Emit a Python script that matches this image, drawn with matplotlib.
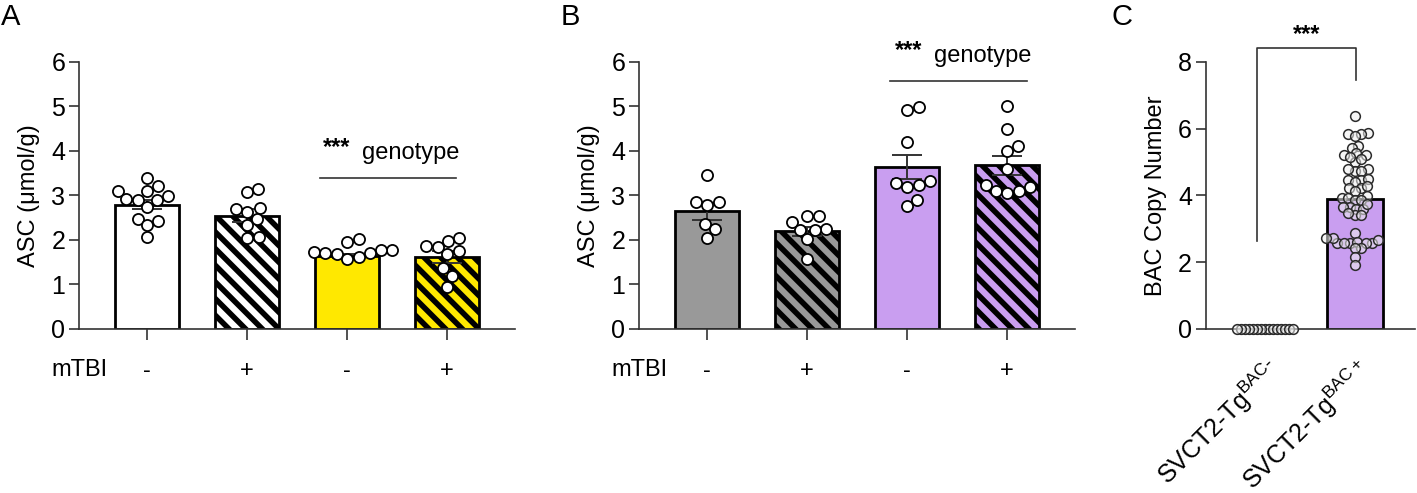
import numpy as np
import matplotlib
matplotlib.use("Agg")
import matplotlib.pyplot as plt
import matplotlib.transforms as mtransforms

plt.rcParams["font.family"] = ["Liberation Sans", "DejaVu Sans"]
plt.rcParams["mathtext.default"] = "regular"
plt.rcParams["hatch.linewidth"] = 4.0
plt.rcParams["hatch.color"] = "black"

# ---- data ----
mtbi_labels = ["-", "+", "-", "+"]

# panel A: ASC, WT vs genotype, sham / mTBI
a_means = [2.79, 2.55, 1.64, 1.62]
a_sem = [0.10, 0.14, 0.05, 0.14]
a_pts = [
    [3.11, 3.39, 3.11, 3.22, 2.99, 2.90, 2.92, 2.89, 2.75, 2.48, 2.43, 2.33, 2.07],
    [3.07, 3.15, 2.72, 2.62, 2.69, 2.47, 2.33, 2.05, 2.07],
    [1.95, 2.02, 1.69, 1.74, 1.78, 1.78, 1.70, 1.57, 1.61, 1.70],
    [1.87, 1.98, 1.84, 2.05, 1.76, 1.69, 1.36, 1.19, 0.95],
]
a_colors = ["white", "white", "#FFE800", "#FFE800"]

# panel B
b_means = [2.65, 2.20, 3.64, 3.68]
b_sem = [0.19, 0.10, 0.28, 0.21]
b_pts = [
    [3.46, 2.85, 2.85, 2.79, 2.36, 2.24, 2.05],
    [2.54, 2.54, 2.41, 2.24, 2.22, 2.22, 2.02, 1.57],
    [4.92, 4.98, 4.21, 3.27, 3.33, 3.20, 3.24, 2.77, 2.90],
    [5.01, 4.49, 4.01, 4.11, 3.59, 3.09, 3.24, 3.11, 3.18, 3.06],
]
b_colors = ["#999999", "#999999", "#C99EF0", "#C99EF0"]

hatches = [None, "\\\\", None, "\\\\"]

# panel C: BAC copy number
c_labels = ["SVCT2-Tg$^{BAC\\text{-}}$", "SVCT2-Tg$^{BAC+}$"]
c_means = [0.0, 3.88]
c_neg = [0.0] * 15
c_pos = [6.38, 5.88, 5.85, 5.85, 5.78, 5.49, 5.43, 5.21, 5.27, 5.21,
         5.00, 5.10, 5.15, 4.73, 4.78, 4.78, 4.73, 4.46, 4.50, 4.46, 4.41,
         4.22, 4.22, 4.27, 4.12, 3.92, 3.97, 3.92, 3.87, 3.87,
         3.65, 3.65, 3.60, 3.60, 3.75, 3.41, 3.41, 3.46, 2.87,
         2.57, 2.57, 2.62, 2.57, 2.67, 2.57, 2.72, 2.72, 2.57,
         2.42, 2.42, 2.16, 1.92]
c_colors = ["white", "#C99EF0"]

AX_COL = "#333333"
FS = 17


def swarm(ax, vals, gap):
    # simple beeswarm, offsets worked out in pixels then mapped back to data
    bb = ax.get_window_extent()
    x0, x1 = ax.get_xlim()
    y0, y1 = ax.get_ylim()
    sx = bb.width / (x1 - x0)
    sy = bb.height / (y1 - y0)
    vals = np.asarray(vals, float)
    offs = np.zeros(len(vals))
    placed = []
    cands = [0]
    for k in range(1, 200):
        cands += [k * 0.5, -k * 0.5]
    for i in np.argsort(vals):
        y = vals[i] * sy
        for c in cands:
            if all(np.hypot(c - px, y - py) >= gap for px, py in placed):
                break
        placed.append((c, y))
        offs[i] = c / sx
    return offs


def style_axis(ax, ymax, step):
    for s in ["top", "right"]:
        ax.spines[s].set_visible(False)
    for s in ["left", "bottom"]:
        ax.spines[s].set_color(AX_COL)
        ax.spines[s].set_linewidth(1.2)
    ax.set_ylim(0, ymax)
    ax.set_yticks(np.arange(0, ymax + 0.1, step))
    ax.tick_params(axis="y", length=7, width=1.2, color=AX_COL, labelsize=18, pad=3)


def group_panel(ax, means, sem, pts, colors, letter):
    x = np.arange(len(means))
    ax.set_xlim(-0.68, 3.68)
    style_axis(ax, 6, 1)
    for xi, m, c, h in zip(x, means, colors, hatches):
        ax.bar(xi, m, width=0.64, color=c, edgecolor="black",
               linewidth=2.0, hatch=h, zorder=1)
    ax.errorbar(x, means, yerr=sem, fmt="none", ecolor=AX_COL,
                elinewidth=1.4, capsize=11, capthick=1.4, zorder=2)
    for xi, p in zip(x, pts):
        off = swarm(ax, p, 11.5)
        ax.plot(xi + off, p, "o", ms=8, mfc="white", mec="black", mew=1.3,
                zorder=3, clip_on=False)
    ax.set_xticks(x)
    ax.set_xticklabels(mtbi_labels, fontsize=FS)
    ax.tick_params(axis="x", length=8, width=1.2, color=AX_COL, pad=14)
    ax.set_ylabel("ASC (\u03bcmol/g)", fontsize=FS, labelpad=8)
    tr = mtransforms.blended_transform_factory(ax.transAxes, ax.transAxes)
    ax.text(0.0, -0.155, "mTBI", transform=tr, ha="center", va="center",
            fontsize=FS)
    ax.text(-0.18, 1.22, letter, transform=ax.transAxes, fontsize=21,
            ha="left", va="top")


fig = plt.figure(figsize=(14.17, 4.93), dpi=100)
axA = fig.add_axes([0.0558, 0.3327, 0.3077, 0.5416])
axB = fig.add_axes([0.4510, 0.3327, 0.3077, 0.5416])
axC = fig.add_axes([0.8511, 0.3327, 0.1475, 0.5416])

group_panel(axA, a_means, a_sem, a_pts, a_colors, "A")
group_panel(axB, b_means, b_sem, b_pts, b_colors, "B")

# genotype annotations
axA.plot([1.73, 3.09], [3.39, 3.39], color=AX_COL, lw=1.2)
axA.text(1.76, 3.93, "***", fontsize=FS, fontweight="bold", va="baseline")
axA.text(2.15, 3.82, "genotype", fontsize=FS, va="baseline")
axB.plot([1.83, 3.20], [5.58, 5.58], color=AX_COL, lw=1.2, clip_on=False)
axB.text(1.88, 6.12, "***", fontsize=FS, fontweight="bold", va="baseline")
axB.text(2.27, 6.01, "genotype", fontsize=FS, va="baseline")

# panel C
xc = np.arange(2)
axC.set_xlim(-0.66, 1.67)
style_axis(axC, 8, 2)
axC.bar(xc, c_means, width=0.63, color=c_colors, edgecolor="black",
        linewidth=2.0, zorder=1)
for xi, p, gap in zip(xc, [c_neg, c_pos], [4.0, 6.5]):
    off = swarm(axC, p, gap)
    axC.plot(xi + off, p, "o", ms=7, mfc=(0.93, 0.93, 0.93, 0.55),
             mec="#2b2b2b", mew=1.1, zorder=3, clip_on=False)
axC.set_xticks(xc)
axC.set_xticklabels(c_labels, fontsize=18, rotation=45, ha="right",
                    rotation_mode="anchor")
axC.tick_params(axis="x", length=0, pad=18)
axC.set_ylabel("BAC Copy Number", fontsize=FS, labelpad=8)
axC.plot([-0.09, -0.09, 1.01, 1.01], [2.64, 8.42, 8.42, 7.46],
         color=AX_COL, lw=1.2, clip_on=False)
axC.text(0.46, 8.62, "***", fontsize=FS, fontweight="bold", ha="center",
         va="baseline")
axC.text(-0.45, 1.22, "C", transform=axC.transAxes, fontsize=21,
         ha="left", va="top")

fig.savefig("out.png", dpi=100)
